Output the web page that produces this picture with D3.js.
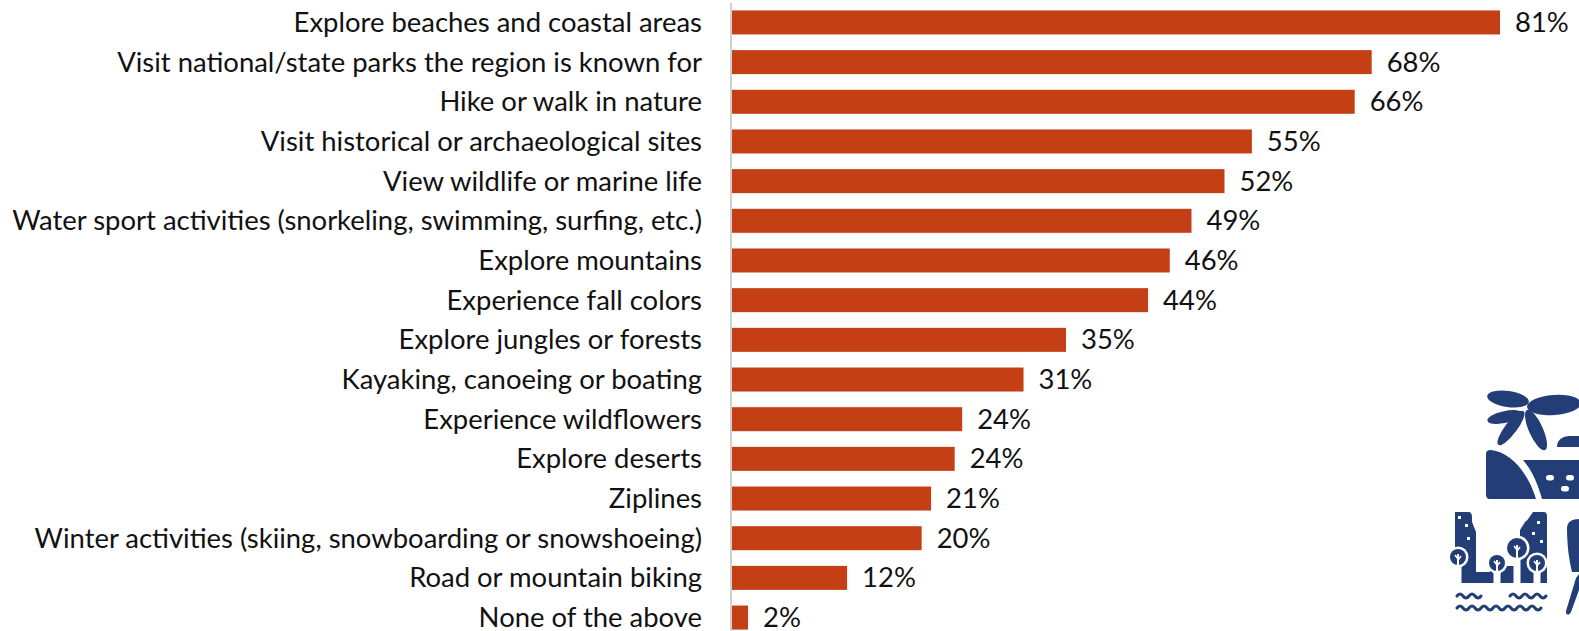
<!DOCTYPE html>
<html><head><meta charset="utf-8">
<script src="https://cdn.jsdelivr.net/npm/d3@7/dist/d3.min.js"></script>
<style>html,body{margin:0;padding:0;background:#fff;overflow:hidden}</style>
</head><body>
<svg id="chart" width="1579" height="631"></svg>
<script>
const categories = [
  "Explore beaches and coastal areas",
  "Visit national/state parks the region is known for",
  "Hike or walk in nature",
  "Visit historical or archaeological sites",
  "View wildlife or marine life",
  "Water sport activities (snorkeling, swimming, surfing, etc.)",
  "Explore mountains",
  "Experience fall colors",
  "Explore jungles or forests",
  "Kayaking, canoeing or boating",
  "Experience wildflowers",
  "Explore deserts",
  "Ziplines",
  "Winter activities (skiing, snowboarding or snowshoeing)",
  "Road or mountain biking",
  "None of the above"
];
const values = [81.4, 67.8, 66.0, 55.1, 52.2, 48.7, 46.4, 44.1, 35.4, 30.9, 24.4, 23.6, 21.1, 20.1, 12.2, 1.7];

const svg = d3.select("#chart");
const W = 1579, H = 631;
const x0 = 732;
const x = d3.scaleLinear().domain([0, 81.4]).range([x0, 1500]);
const y = d3.scaleBand().domain(categories).range([2.5, 637.5]).paddingInner(0.395).paddingOuter(0.2);

const barColor = "#C43F14";
const fontFamily = "Lato, 'Open Sans', sans-serif";

// axis line
svg.append("line").attr("x1", 731).attr("x2", 731).attr("y1", 3).attr("y2", H)
  .attr("stroke", "#d0d0d0").attr("stroke-width", 2);

svg.selectAll("rect.bar").data(values).enter().append("rect")
  .attr("class", "bar")
  .attr("x", x(0))
  .attr("y", (d, i) => y(categories[i]))
  .attr("width", d => x(d) - x(0))
  .attr("height", y.bandwidth())
  .attr("fill", barColor);

// category labels
const labels = svg.selectAll("text.cat").data(categories).enter().append("text")
  .attr("class", "cat")
  .attr("x", 702)
  .attr("y", d => y(d) + y.bandwidth() / 2)
  .attr("dy", "0.35em")
  .attr("text-anchor", "end")
  .attr("font-family", fontFamily)
  .attr("font-size", 22)
  .attr("fill", "#111")
  .text(d => d);
let maxW = 0;
labels.each(function(){ maxW = Math.max(maxW, this.getComputedTextLength()); });
const fs = 22 * 690 / maxW;
labels.attr("font-size", fs);

svg.selectAll("text.val").data(values).enter().append("text")
  .attr("class", "val")
  .attr("x", d => x(d) + 15)
  .attr("y", (d, i) => y(categories[i]) + y.bandwidth() / 2)
  .attr("dy", "0.35em")
  .attr("font-family", fontFamily)
  .attr("font-size", fs)
  .attr("fill", "#111")
  .text(d => Math.round(d) + "%");

// decorative icon (bottom right)
const navy = "#233E77";
const ic = svg.append("g").attr("fill", navy);
// palm leaves
[[1508,399,21,8,8],[1505,417,18,6,-12],[1511,428,21,6,127],[1536,430,22,7,66],[1554,405,27,10,-4]].forEach(l => {
  ic.append("ellipse").attr("cx", l[0]).attr("cy", l[1]).attr("rx", l[2]).attr("ry", l[3])
    .attr("transform", `rotate(${l[4]},${l[0]},${l[1]})`);
});
// small hump
ic.append("path").attr("d", "M1557,447 C1557,440 1562,436 1570,436 L1579,436 L1579,447 Z");
// hill (left)
ic.append("path").attr("d", "M1486,454 C1486,451 1488,450 1491,450 C1510,452 1528,472 1536,499 L1490,499 C1487,499 1486,497 1486,494 Z");
// deck (right)
ic.append("path").attr("d", "M1523,460 L1579,460 L1579,499 L1542,499 C1538,484 1532,470 1523,460 Z");
ic.append("g").attr("fill", "#fff").selectAll("rect").data([[1546,475],[1566,475],[1561,486]]).enter()
  .append("rect").attr("x", d => d[0]).attr("y", d => d[1]).attr("width", 8).attr("height", 5.5).attr("rx", 2.7);
// left building
ic.append("path").attr("d", "M1455,512 L1468,512 C1471,512 1472,514 1472,517 L1472,522 L1476,532 L1476,572 L1490,572 L1490,583 L1455,583 Z");
// right building and ground
ic.append("path").attr("d", "M1533,512 L1544,512 C1546,512 1547,514 1547,516 L1547,583 L1490,583 L1490,566 L1520,566 L1520,530 L1525,522 C1528,520 1530,516 1533,512 Z");
// trees
const trees = [[1458,557,8],[1497,563,8],[1517,548,10],[1537,563,8]];
trees.forEach(t => {
  ic.append("circle").attr("cx", t[0]).attr("cy", t[1]).attr("r", t[2] + 2.5).attr("fill", "#fff");
  ic.append("rect").attr("x", t[0] - 1.5 - 2).attr("y", t[1]).attr("width", 7).attr("height", 584 - t[1]).attr("fill", "#fff");
  ic.append("circle").attr("cx", t[0]).attr("cy", t[1]).attr("r", t[2]);
  ic.append("line").attr("x1", t[0]).attr("x2", t[0]).attr("y1", t[1] - 3).attr("y2", 583).attr("stroke", "#fff").attr("stroke-width", 2);
  ic.append("line").attr("x1", t[0] - 3).attr("x2", t[0]).attr("y1", t[1] - 2).attr("y2", t[1] + 2).attr("stroke", "#fff").attr("stroke-width", 1.5);
  ic.append("line").attr("x1", t[0] + 3).attr("x2", t[0]).attr("y1", t[1] - 1).attr("y2", t[1] + 3).attr("stroke", "#fff").attr("stroke-width", 1.5);
});
ic.append("g").attr("fill", "#fff").selectAll("rect").data([[1458,516],[1465,524],[1467,537],[1537,521],[1532,532],[1540,540]]).enter()
  .append("rect").attr("x", d => d[0]).attr("y", d => d[1]).attr("width", 3).attr("height", 3);
// waves
function wave(xa, xb, wy) {
  let d = "M" + xa + "," + wy;
  for (let sx = xa; sx + 12 <= xb + 0.1; sx += 12) {
    d += " Q" + (sx + 3) + "," + (wy - 4) + " " + (sx + 6) + "," + wy + " T" + (sx + 12) + "," + wy;
  }
  ic.append("path").attr("d", d).attr("fill", "none").attr("stroke", navy).attr("stroke-width", 3).attr("stroke-linecap", "round");
}
wave(1457, 1490, 596); wave(1510, 1546, 596); wave(1457, 1546, 608);
// paddle
ic.append("path").attr("d", "M1567,528 C1567,522 1572,519 1579,519 L1579,572 L1572,572 C1569,560 1567,545 1567,528 Z");
ic.append("path").attr("d", "M1576,578 L1579,574 L1579,590 L1571,612 C1569,616 1565,615 1566,611 Z");
</script>
</body></html>
